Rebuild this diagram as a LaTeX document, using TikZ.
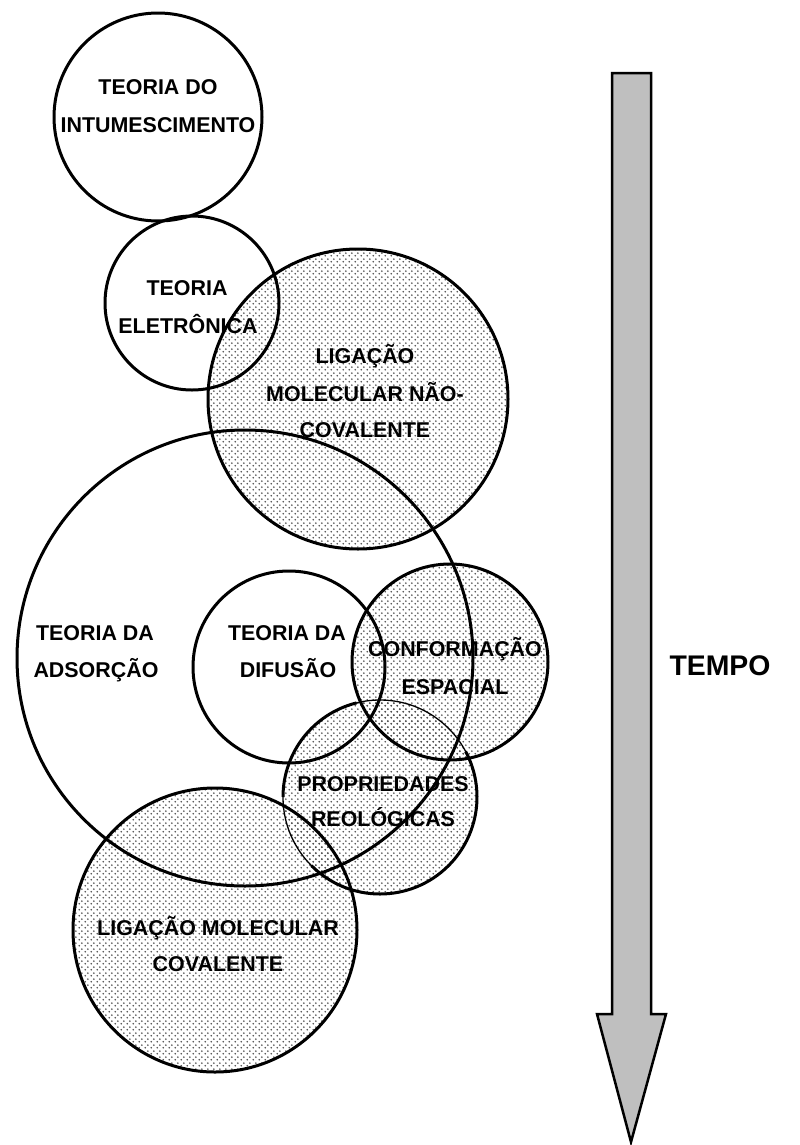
\documentclass[tikz,border=0pt]{standalone}
\usepackage{fontspec}
\setmainfont{Liberation Sans}
\usetikzlibrary{patterns.meta}
\tikzdeclarepattern{
  name=mydots,
  type=uncolored,
  bottom left={(0bp,0bp)},
  top right={(6bp,6bp)},
  tile size={(6bp,6bp)},
  code={
    \pgfpathcircle{\pgfpoint{1.5bp}{1.5bp}}{1.05bp}
    \pgfpathcircle{\pgfpoint{4.5bp}{4.5bp}}{1.05bp}
    \pgfusepath{fill}
  }
}
\begin{document}
\begin{tikzpicture}[x=1bp,y=1bp,
  ring/.style={line width=3bp},
  thinring/.style={line width=1.3bp},
  dotfill/.style={pattern=mydots, pattern color=black!70},
  lbl/.style={anchor=base, inner sep=0pt, font=\bfseries\fontsize{21.5}{37}\selectfont},
  biglbl/.style={anchor=base, inner sep=0pt, font=\bfseries\fontsize{28.5}{34}\selectfont},
  timearrow/.style={fill=gray!50, draw=black, line width=2.5bp, line join=miter}]
\useasboundingbox (0,0) rectangle (800,-1145);
% dotted fills
\fill[dotfill] (358,-399) circle[radius=150];
\fill[dotfill] (450,-662) circle[radius=98];
\fill[dotfill] (380,-797) circle[radius=97];
\fill[dotfill] (215,-930) circle[radius=142];
% outlines
\draw[ring] (158,-117) circle[radius=104];
\draw[ring] (192,-303) circle[radius=87];
\draw[ring] (358,-399) circle[radius=150];
\draw[ring] (245,-658) circle[radius=228];
\draw[ring] (289,-667) circle[radius=96];
\draw[ring] (450,-662) circle[radius=98];
\draw[thinring] (380,-797) circle[radius=97];
\draw[ring] ([shift={(104:97)}]380,-797) arc[start angle=104, end angle=180, radius=97];
\draw[ring] ([shift={(225:97)}]380,-797) arc[start angle=225, end angle=388, radius=97];
\draw[ring] (215,-930) circle[radius=142];
% time arrow
\draw[timearrow] (612,-73) -- (651,-73) -- (651,-1014) -- (666,-1014) -- (631,-1142)
  -- (597,-1014) -- (612,-1014) -- cycle;
\node[biglbl] (tempo) at (720,-675) {TEMPO};
% labels
\node[lbl] (int1) at (158,-94) {TEORIA DO};
\node[lbl] (int2) at (158,-132) {INTUMESCIMENTO};
\node[lbl] (ele1) at (187,-295) {TEORIA};
\node[lbl] (ele2) at (188,-333) {ELETRÔNICA};
\node[lbl] (nc1) at (365,-363) {LIGAÇÃO};
\node[lbl] (nc2) at (365,-401) {MOLECULAR NÃO-};
\node[lbl] (nc3) at (365,-437) {COVALENTE};
\node[lbl] (ads1) at (95,-640) {TEORIA DA};
\node[lbl] (ads2) at (96,-677) {ADSORÇÃO};
\node[lbl] (dif1) at (287,-640) {TEORIA DA};
\node[lbl] (dif2) at (288,-677) {DIFUSÃO};
\node[lbl] (conf1) at (455,-656) {CONFORMAÇÃO};
\node[lbl] (conf2) at (455,-694) {ESPACIAL};
\node[lbl] (prop1) at (383,-791) {PROPRIEDADES};
\node[lbl] (prop2) at (383,-826) {REOLÓGICAS};
\node[lbl] (cov1) at (218,-935) {LIGAÇÃO MOLECULAR};
\node[lbl] (cov2) at (218,-971) {COVALENTE};
\end{tikzpicture}
\end{document}
